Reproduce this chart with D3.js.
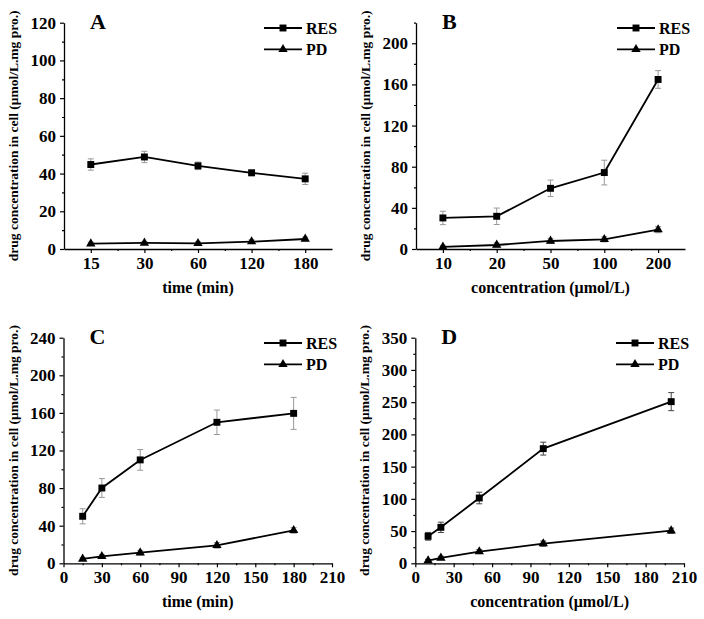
<!DOCTYPE html>
<html>
<head>
<meta charset="utf-8">
<script src="https://cdn.jsdelivr.net/npm/d3@7"></script>
<style>
  body { margin: 0; background: #fff; }
  svg text { font-family: "Liberation Serif", "Times New Roman", serif; font-weight: bold; fill: #000; }
</style>
</head>
<body>
<svg id="chart" width="704" height="619"></svg>
<script>
// categories / x values
const timeLabels = ["15", "30", "60", "120", "180"];
const concLabels = ["10", "20", "50", "100", "200"];
const timeMin = [15, 30, 60, 120, 180];
const concUmol = [10, 20, 50, 100, 200];

// A: uptake vs time (categorical axis)
const resA = [44.8, 48.8, 44.1, 40.4, 37.2];
const resAErr = [3, 3, 2, 1.5, 3];
const pdA = [2.8, 3.2, 3.0, 3.9, 5.3];
const pdAErr = [0.8, 0.8, 0.8, 1, 1];

// B: uptake vs concentration (categorical axis)
const resB = [30.2, 31.8, 59, 74.3, 164.8];
const resBErr = [6.5, 8, 8, 12, 8.6];
const pdB = [2, 3.9, 7.8, 9.4, 18.8];
const pdBErr = [1.5, 2, 2.5, 2.5, 3];

// C: uptake vs time (linear axis)
const resC = [50, 80.1, 110, 150, 159.5];
const resCErr = [8, 10, 11, 13, 17];
const pdC = [4.6, 7.4, 11.3, 19.1, 35];
const pdCErr = [1.5, 2, 2.5, 3, 3];

// D: uptake vs concentration (linear axis)
const resD = [41.9, 55.8, 101.3, 177.9, 250.8];
const resDErr = [6, 8, 9, 10, 14];
const pdD = [4.1, 8.3, 18.1, 30.5, 50.6];
const pdDErr = [2, 2.5, 3, 4, 4];

const yTitle = "drug concentration in cell (\u03bcmol/L.mg pro.)";

const panels = [
  { letter: "A", left: 64, top: 22.7, bottom: 249, right: 332, cat: timeLabels,
    yMax: 120, yStep: 20, xTitle: "time (min)", res: resA, resErr: resAErr, pd: pdA, pdErr: pdAErr, errColor: "#999" },
  { letter: "B", left: 416, top: 22.7, bottom: 249, right: 685, cat: concLabels,
    yMax: 220, yStep: 40, yTop: 200, xTitle: "concentration (\u03bcmol/L)", res: resB, resErr: resBErr, pd: pdB, pdErr: pdBErr, errColor: "#999" },
  { letter: "C", left: 63.5, top: 337.7, bottom: 563.3, right: 332, xs: timeMin,
    yMax: 240, yStep: 40, xTitle: "time (min)", res: resC, resErr: resCErr, pd: pdC, pdErr: pdCErr, errColor: "#999" },
  { letter: "D", left: 415.3, top: 337.7, bottom: 563.3, right: 684, xs: concUmol,
    yMax: 350, yStep: 50, xTitle: "concentration (\u03bcmol/L)", res: resD, resErr: resDErr, pd: pdD, pdErr: pdDErr, errColor: "#444" }
];

const svg = d3.select("#chart");

panels.forEach(p => {
  const g = svg.append("g");

  let x, xTicks, xMinor, xFmt;
  if (p.cat) {
    x = d3.scaleLinear().domain([-0.5, p.cat.length - 0.5]).range([p.left, p.right]);
    xTicks = d3.range(p.cat.length);
    xMinor = d3.range(0.5, p.cat.length - 0.5, 1);
    xFmt = i => p.cat[i];
  } else {
    x = d3.scaleLinear().domain([0, 210]).range([p.left, p.right]);
    xTicks = d3.range(0, 211, 30);
    xMinor = d3.range(15, 210, 30);
    xFmt = d => d;
  }
  const xPos = (d, i) => p.cat ? x(i) : x(p.xs[i]);

  const y = d3.scaleLinear().domain([0, p.yMax]).range([p.bottom, p.top]);
  const yTop = p.yTop || p.yMax;
  const yTicks = d3.range(0, yTop + 0.1, p.yStep);
  const yMinor = d3.range(p.yStep / 2, p.yMax + 0.1, p.yStep);

  // axes
  g.append("g").attr("transform", `translate(0,${p.bottom})`)
    .call(d3.axisBottom(x).tickValues(xTicks).tickFormat(xFmt).tickSize(4).tickSizeOuter(0).tickPadding(4));
  g.append("g").attr("transform", `translate(0,${p.bottom})`)
    .call(d3.axisBottom(x).tickValues(xMinor).tickFormat("").tickSize(2).tickSizeOuter(0))
    .select(".domain").remove();
  g.append("g").attr("transform", `translate(${p.left},0)`)
    .call(d3.axisLeft(y).tickValues(yTicks).tickSize(4).tickSizeOuter(0).tickPadding(4));
  g.append("g").attr("transform", `translate(${p.left},0)`)
    .call(d3.axisLeft(y).tickValues(yMinor).tickFormat("").tickSize(2).tickSizeOuter(0))
    .select(".domain").remove();

  g.selectAll(".domain").attr("stroke", "#000").attr("stroke-width", 1.3);
  g.selectAll(".tick line").attr("stroke", "#000").attr("stroke-width", 1.2);
  g.selectAll(".tick text").attr("font-size", 17).attr("font-family", "Liberation Serif").attr("font-weight", "bold");

  // titles
  g.append("text")
    .attr("x", (p.left + p.right) / 2).attr("y", p.bottom + 44)
    .attr("text-anchor", "middle").attr("font-size", 16)
    .text(p.xTitle);
  g.append("text")
    .attr("transform", `translate(${p.left - 46},${(p.top + p.bottom) / 2}) rotate(-90)`)
    .attr("text-anchor", "middle").attr("font-size", 13.5)
    .text(yTitle);
  g.append("text")
    .attr("x", p.left + 26).attr("y", p.top + 6)
    .attr("font-size", 22)
    .text(p.letter);

  // series
  const series = [
    { vals: p.res, err: p.resErr, shape: d3.symbolSquare, size: 48 },
    { vals: p.pd, err: p.pdErr, shape: d3.symbolTriangle, size: 38 }
  ];
  const line = d3.line().x((d, i) => xPos(d, i)).y(d => y(d));

  series.forEach(s => {
    // error bars
    const eb = g.append("g").attr("stroke", p.errColor).attr("stroke-width", 1);
    s.vals.forEach((v, i) => {
      const cx = xPos(v, i);
      eb.append("line").attr("x1", cx).attr("x2", cx).attr("y1", y(v - s.err[i])).attr("y2", y(v + s.err[i]));
      eb.append("line").attr("x1", cx - 3).attr("x2", cx + 3).attr("y1", y(v - s.err[i])).attr("y2", y(v - s.err[i]));
      eb.append("line").attr("x1", cx - 3).attr("x2", cx + 3).attr("y1", y(v + s.err[i])).attr("y2", y(v + s.err[i]));
    });
    g.append("path").datum(s.vals)
      .attr("d", line).attr("fill", "none").attr("stroke", "#000").attr("stroke-width", 1.8);
    g.selectAll(null).data(s.vals).enter().append("path")
      .attr("transform", (d, i) => `translate(${xPos(d, i)},${y(d)})`)
      .attr("d", d3.symbol().type(s.shape).size(s.size))
      .attr("fill", "#000");
  });

  // legend
  const lg = g.append("g").attr("transform", `translate(${p.right - 68},${p.top + 5.3})`);
  series.forEach((s, k) => {
    const ly = k * 21.3;
    lg.append("line").attr("x1", 0).attr("x2", 38).attr("y1", ly).attr("y2", ly)
      .attr("stroke", "#000").attr("stroke-width", 1.8);
    lg.append("path").attr("transform", `translate(19,${ly})`)
      .attr("d", d3.symbol().type(s.shape).size(s.size)).attr("fill", "#000");
    lg.append("text").attr("x", 42).attr("y", ly + 5.5).attr("font-size", 16)
      .text(k === 0 ? "RES" : "PD");
  });
});
</script>
</body>
</html>
